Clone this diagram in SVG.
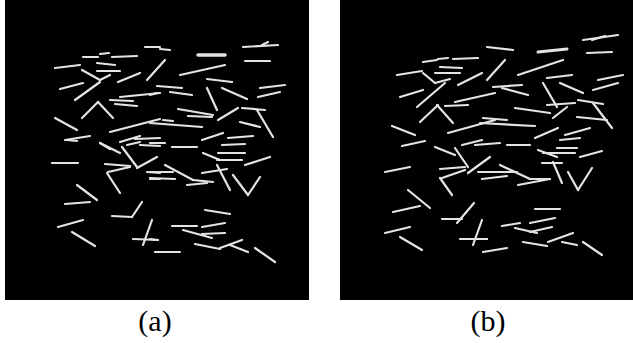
<svg xmlns="http://www.w3.org/2000/svg" width="633" height="343" viewBox="0 0 633 343">
<style>
.panel{fill:#000}
.seg line{stroke:#e4e4e4;stroke-width:2.2;stroke-linecap:round}
.lbl{font-family:"Liberation Serif","DejaVu Serif",serif;font-size:30px;fill:#000;text-anchor:middle}
</style>
<rect width="633" height="343" fill="#fff"/>
<g id="panel-a">
<rect class="panel" x="5" y="0" width="304" height="300"/>
<g class="seg">
<line x1="83" y1="57" x2="98" y2="57"/><line x1="100" y1="54" x2="109" y2="53"/><line x1="112" y1="57" x2="137" y2="56"/>
<line x1="145" y1="47" x2="160" y2="47"/><line x1="160" y1="49" x2="170" y2="50"/><line x1="55" y1="68" x2="80" y2="65"/>
<line x1="97" y1="63" x2="115" y2="65"/><line x1="97" y1="71" x2="120" y2="71"/><line x1="82" y1="70" x2="100" y2="80"/>
<line x1="100" y1="80" x2="110" y2="75"/><line x1="60" y1="89" x2="83" y2="83"/><line x1="75" y1="100" x2="100" y2="82"/>
<line x1="118" y1="82" x2="140" y2="73"/><line x1="147" y1="80" x2="165" y2="60"/><line x1="157" y1="86" x2="182" y2="88"/>
<line x1="170" y1="92" x2="192" y2="95"/><line x1="110" y1="100" x2="133" y2="101"/><line x1="115" y1="104" x2="137" y2="106"/>
<line x1="120" y1="97" x2="160" y2="93"/><line x1="82" y1="118" x2="98" y2="102"/><line x1="98" y1="102" x2="113" y2="118"/>
<line x1="55" y1="118" x2="77" y2="130"/><line x1="110" y1="132" x2="160" y2="119"/><line x1="65" y1="140" x2="90" y2="136"/>
<line x1="100" y1="143" x2="110" y2="149"/><line x1="120" y1="142" x2="140" y2="136"/><line x1="135" y1="139" x2="160" y2="138"/>
<line x1="198" y1="55" x2="225" y2="55" style="stroke-width:3.5"/><line x1="243" y1="47" x2="278" y2="45"/><line x1="262" y1="45" x2="268" y2="42"/>
<line x1="245" y1="61" x2="270" y2="61"/><line x1="180" y1="75" x2="225" y2="65"/><line x1="207" y1="79" x2="232" y2="82"/>
<line x1="150" y1="95" x2="157" y2="93"/><line x1="207" y1="88" x2="217" y2="110"/><line x1="222" y1="88" x2="247" y2="99"/>
<line x1="260" y1="88" x2="285" y2="85"/><line x1="258" y1="97" x2="280" y2="92"/><line x1="178" y1="109" x2="213" y2="115"/>
<line x1="188" y1="116" x2="212" y2="117"/><line x1="218" y1="120" x2="238" y2="108"/><line x1="242" y1="108" x2="265" y2="110"/>
<line x1="257" y1="110" x2="273" y2="137"/><line x1="150" y1="123" x2="202" y2="127"/><line x1="163" y1="120" x2="173" y2="121"/>
<line x1="240" y1="122" x2="260" y2="127"/><line x1="202" y1="140" x2="223" y2="133"/><line x1="228" y1="138" x2="253" y2="136"/>
<line x1="150" y1="143" x2="165" y2="143"/><line x1="172" y1="147" x2="197" y2="147"/><line x1="222" y1="145" x2="245" y2="144"/>
<line x1="100" y1="143" x2="120" y2="153"/><line x1="122" y1="147" x2="137" y2="167"/><line x1="127" y1="145" x2="140" y2="142"/>
<line x1="140" y1="145" x2="160" y2="146"/><line x1="52" y1="163" x2="78" y2="163"/><line x1="105" y1="164" x2="130" y2="166"/>
<line x1="108" y1="172" x2="130" y2="167"/><line x1="137" y1="168" x2="157" y2="157"/><line x1="147" y1="172" x2="160" y2="173"/>
<line x1="107" y1="173" x2="120" y2="193"/><line x1="150" y1="179" x2="160" y2="179"/><line x1="77" y1="185" x2="97" y2="200"/>
<line x1="65" y1="204" x2="90" y2="202"/><line x1="112" y1="216" x2="132" y2="217"/><line x1="132" y1="217" x2="142" y2="202"/>
<line x1="58" y1="227" x2="83" y2="220"/><line x1="72" y1="232" x2="95" y2="246"/><line x1="133" y1="239" x2="158" y2="240"/>
<line x1="143" y1="245" x2="152" y2="220"/><line x1="155" y1="252" x2="180" y2="252"/><line x1="203" y1="153" x2="220" y2="160"/>
<line x1="218" y1="153" x2="245" y2="153"/><line x1="217" y1="160" x2="242" y2="160"/><line x1="245" y1="165" x2="270" y2="157"/>
<line x1="150" y1="172" x2="173" y2="172"/><line x1="165" y1="165" x2="193" y2="180"/><line x1="193" y1="180" x2="213" y2="182"/>
<line x1="150" y1="178" x2="175" y2="179"/><line x1="187" y1="185" x2="207" y2="183"/><line x1="202" y1="173" x2="227" y2="169"/>
<line x1="217" y1="165" x2="230" y2="190"/><line x1="233" y1="175" x2="248" y2="195"/><line x1="248" y1="195" x2="260" y2="177"/>
<line x1="205" y1="210" x2="230" y2="214"/><line x1="172" y1="226" x2="197" y2="226"/><line x1="202" y1="227" x2="225" y2="223"/>
<line x1="183" y1="230" x2="212" y2="238"/><line x1="202" y1="234" x2="225" y2="233"/><line x1="195" y1="244" x2="220" y2="249"/>
<line x1="220" y1="248" x2="242" y2="240"/><line x1="230" y1="245" x2="248" y2="252"/><line x1="255" y1="248" x2="275" y2="262"/>
<line x1="150" y1="239" x2="158" y2="240"/><line x1="67" y1="140" x2="77" y2="141"/>
</g>
</g>
<g id="panel-b">
<rect class="panel" x="340" y="0" width="293" height="300"/>
<g class="seg">
<line x1="423" y1="62" x2="437" y2="60"/><line x1="438" y1="59" x2="448" y2="58"/><line x1="453" y1="59" x2="478" y2="58"/>
<line x1="487" y1="47" x2="513" y2="50"/><line x1="538" y1="52" x2="567" y2="49" style="stroke-width:3"/><line x1="583" y1="40" x2="618" y2="35"/>
<line x1="592" y1="40" x2="605" y2="36"/><line x1="587" y1="53" x2="612" y2="52"/><line x1="397" y1="75" x2="422" y2="71"/>
<line x1="440" y1="67" x2="462" y2="68"/><line x1="435" y1="73" x2="460" y2="73"/><line x1="423" y1="73" x2="435" y2="83"/>
<line x1="435" y1="83" x2="450" y2="79"/><line x1="400" y1="97" x2="423" y2="90"/><line x1="417" y1="107" x2="445" y2="83"/>
<line x1="458" y1="85" x2="482" y2="73"/><line x1="487" y1="80" x2="505" y2="60"/><line x1="518" y1="75" x2="563" y2="60"/>
<line x1="547" y1="78" x2="572" y2="75"/><line x1="598" y1="80" x2="623" y2="75"/><line x1="593" y1="90" x2="618" y2="83"/>
<line x1="493" y1="87" x2="522" y2="85"/><line x1="502" y1="88" x2="528" y2="95"/><line x1="445" y1="106" x2="468" y2="105"/>
<line x1="455" y1="102" x2="495" y2="93"/><line x1="420" y1="122" x2="438" y2="105"/><line x1="437" y1="105" x2="453" y2="123"/>
<line x1="392" y1="126" x2="415" y2="135"/><line x1="448" y1="133" x2="495" y2="120"/><line x1="402" y1="146" x2="425" y2="141"/>
<line x1="543" y1="83" x2="557" y2="107"/><line x1="560" y1="83" x2="583" y2="93"/><line x1="578" y1="100" x2="603" y2="104"/>
<line x1="515" y1="108" x2="550" y2="113"/><line x1="547" y1="105" x2="575" y2="103"/><line x1="553" y1="118" x2="567" y2="107"/>
<line x1="593" y1="103" x2="612" y2="128"/><line x1="577" y1="117" x2="607" y2="120"/><line x1="480" y1="123" x2="535" y2="126"/>
<line x1="483" y1="118" x2="507" y2="120"/><line x1="535" y1="138" x2="558" y2="128"/><line x1="565" y1="135" x2="590" y2="128"/>
<line x1="560" y1="140" x2="580" y2="138"/><line x1="435" y1="147" x2="455" y2="155"/><line x1="455" y1="148" x2="468" y2="167"/>
<line x1="462" y1="145" x2="482" y2="140"/><line x1="475" y1="145" x2="500" y2="143"/><line x1="507" y1="145" x2="530" y2="145"/>
<line x1="557" y1="148" x2="577" y2="148"/><line x1="538" y1="150" x2="557" y2="157"/><line x1="543" y1="153" x2="575" y2="153"/>
<line x1="580" y1="157" x2="602" y2="151"/><line x1="385" y1="172" x2="410" y2="167"/><line x1="440" y1="169" x2="465" y2="167"/>
<line x1="442" y1="178" x2="465" y2="170"/><line x1="468" y1="173" x2="490" y2="157"/><line x1="478" y1="172" x2="517" y2="172"/>
<line x1="482" y1="179" x2="507" y2="176"/><line x1="440" y1="178" x2="452" y2="195"/><line x1="500" y1="165" x2="530" y2="179"/>
<line x1="518" y1="185" x2="550" y2="179"/><line x1="530" y1="179" x2="550" y2="179"/><line x1="542" y1="163" x2="562" y2="163"/>
<line x1="553" y1="162" x2="562" y2="183"/><line x1="568" y1="172" x2="578" y2="190"/><line x1="578" y1="190" x2="592" y2="168"/>
<line x1="408" y1="190" x2="430" y2="208"/><line x1="393" y1="212" x2="420" y2="206"/><line x1="442" y1="219" x2="462" y2="219"/>
<line x1="457" y1="223" x2="474" y2="203"/><line x1="535" y1="209" x2="560" y2="209"/><line x1="385" y1="233" x2="410" y2="227"/>
<line x1="400" y1="237" x2="422" y2="250"/><line x1="460" y1="239" x2="487" y2="239"/><line x1="473" y1="245" x2="482" y2="220"/>
<line x1="502" y1="226" x2="520" y2="223"/><line x1="530" y1="223" x2="555" y2="218"/><line x1="515" y1="228" x2="537" y2="233"/>
<line x1="530" y1="232" x2="552" y2="227"/><line x1="523" y1="242" x2="547" y2="246"/><line x1="548" y1="242" x2="573" y2="233"/>
<line x1="562" y1="242" x2="577" y2="245"/><line x1="483" y1="252" x2="507" y2="248"/><line x1="583" y1="242" x2="602" y2="255"/>
<line x1="480" y1="239" x2="487" y2="239"/>
</g>
</g>
<text class="lbl" x="155" y="331">(a)</text>
<text class="lbl" x="488" y="331">(b)</text>
</svg>
